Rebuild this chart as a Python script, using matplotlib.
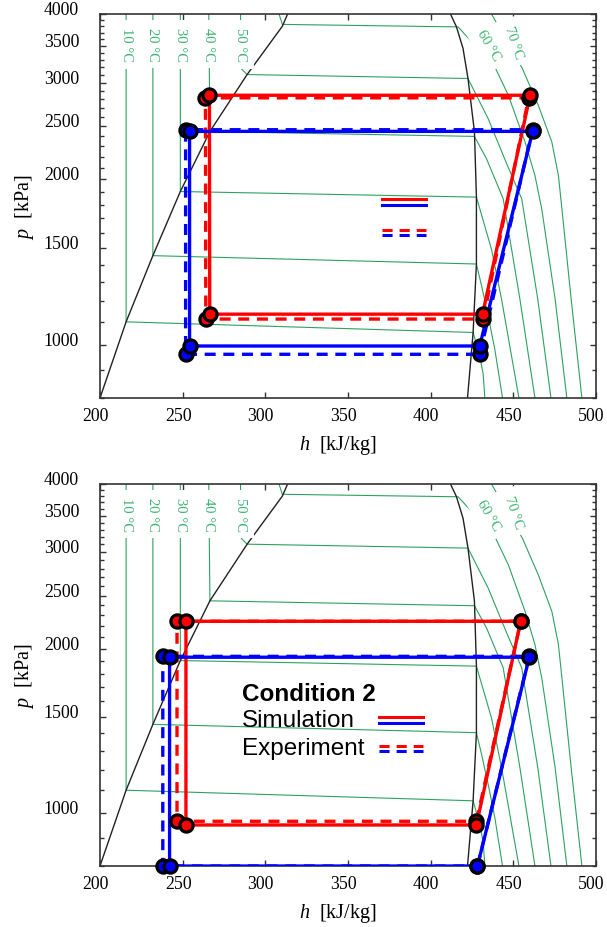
import matplotlib
matplotlib.use("Agg")
import matplotlib.pyplot as plt
import matplotlib.transforms as mtransforms
from matplotlib.lines import Line2D
from matplotlib.legend_handler import HandlerBase
from matplotlib.ticker import FixedLocator, FixedFormatter, NullFormatter

plt.rcParams['font.family'] = 'Liberation Serif'
plt.rcParams['mathtext.fontset'] = 'custom'
plt.rcParams['mathtext.it'] = 'Liberation Serif:italic'
plt.rcParams['mathtext.rm'] = 'Liberation Serif'

# ---- background: saturation dome (h in kJ/kg, p in kPa)
sat_liq_h = [200, 215.8, 232, 248.6, 266.5, 289, 310.3, 313.5]
sat_liq_p = [800, 1101, 1453, 1901, 2445, 3104, 3800, 4000]
sat_vap_h = [412.0, 415.6, 419.6, 422.6, 426.5, 427.7, 427.7, 425.7, 422.3]
sat_vap_p = [4000, 3793, 3462, 3053, 2443, 1857, 1403, 1053, 800]

# ---- isotherms (liquid part, two-phase line, superheated part)
iso_10_h = [215.8, 215.8, 425.7, 429.7, 431.8, 432.8]
iso_10_p = [4000, 1101, 1053, 954, 884, 800]
iso_20_h = [232, 232, 427.7, 430.8, 434.8, 438.8, 443.5]
iso_20_p = [4000, 1453, 1403, 1281, 1129, 982, 800]
iso_30_h = [248.6, 248.6, 427.7, 436.8, 442.9, 453.4]
iso_30_p = [4000, 1901, 1857, 1493, 1211, 800]
iso_40_h = [265.8, 266.5, 426.5, 433.8, 443.9, 454.0, 463.1]
iso_40_p = [4000, 2445, 2395, 2181, 1844, 1211, 800]
iso_50_h = [285, 285.5, 289, 422.6, 434.8, 446.0, 455.1, 464.8, 472.8]
iso_50_p = [4000, 3180, 3104, 3053, 2580, 2136, 1844, 1211, 800]
iso_60_h = [308.3, 310.3, 416.6, 438.8, 447.0, 457.1, 463.1, 467.2, 475.3, 482.4]
iso_60_p = [4000, 3830, 3790, 3206, 2846, 2340, 2033, 1768, 1211, 800]
iso_70_h = [436.8, 455.5, 465.1, 473.3, 477.3, 479.4, 485.0, 491.5]
iso_70_p = [4000, 3183, 2729, 2340, 2033, 1768, 1211, 800]

iso_h = [iso_10_h, iso_20_h, iso_30_h, iso_40_h, iso_50_h, iso_60_h, iso_70_h]
iso_p = [iso_10_p, iso_20_p, iso_30_p, iso_40_p, iso_50_p, iso_60_p, iso_70_p]

iso_labels = ['10 °C', '20 °C', '30 °C', '40 °C', '50 °C', '60 °C', '70 °C']
iso_label_h = [215.8, 232, 248.6, 265.8, 285, 435.0, 450.4]
iso_label_p = [3524, 3524, 3524, 3524, 3524, 3511, 3561]
iso_label_rot = [-90, -90, -90, -90, -90, -59.5, -71.6]

# ---- cycles: suction, discharge, condenser outlet, expansion outlet
c1_sim_red_h = [431.4, 460.2, 266.2, 266.4]
c1_sim_red_p = [1137, 2846, 2846, 1137]
c1_exp_red_h = [431.8, 459.3, 263.8, 264.0]
c1_exp_red_p = [1114, 2815, 2815, 1114]
c1_sim_blue_h = [429.7, 461.7, 254.2, 254.2]
c1_sim_blue_p = [995, 2446, 2446, 995]
c1_exp_blue_h = [429.7, 461.7, 251.8, 251.8]
c1_exp_blue_p = [961, 2463, 2463, 961]

c2_sim_red_h = [427.7, 454.5, 252.0, 252.0]
c2_sim_red_p = [951, 2243, 2243, 951]
c2_exp_red_h = [427.7, 454.5, 246.6, 246.6]
c2_exp_red_p = [966, 2243, 2243, 966]
c2_sim_blue_h = [428.3, 459.7, 242.1, 242.1]
c2_sim_blue_p = [800, 1928, 1928, 800]
c2_exp_blue_h = [428.3, 459.7, 238.0, 238.0]
c2_exp_blue_p = [800, 1935, 1935, 800]

y_major = [1000, 1500, 2000, 2500, 3000, 3500, 4000]
y_minor = [800, 900, 1100, 1200, 1300, 1400, 1600, 1700, 1800, 1900,
           2100, 2200, 2300, 2400, 2600, 2700, 2800, 2900,
           3100, 3200, 3300, 3400, 3600, 3700, 3800, 3900]
x_major = [200, 250, 300, 350, 400, 450, 500]

legend_title = 'Condition 2'
legend_labels = ['Simulation', 'Experiment']

GREEN = '#2ca25f'
DASH = (0, (3.3, 2.3))
LW = 2.4


class PairHandler(HandlerBase):
    """red line above blue line, like the original legend"""
    def __init__(self, ls):
        super().__init__()
        self.ls = ls

    def create_artists(self, legend, orig_handle, xdescent, ydescent,
                       width, height, fontsize, trans):
        y0 = height / 2 - ydescent
        out = []
        for dy, c in [(2.0, 'red'), (-2.0, 'blue')]:
            ln = Line2D([-xdescent, -xdescent + width], [y0 + dy, y0 + dy],
                        color=c, lw=2.2, ls=self.ls, transform=trans)
            out.append(ln)
        return out


def draw_background(ax):
    ax.plot(sat_liq_h, sat_liq_p, color='#222222', lw=1.0, zorder=1.5)
    ax.plot(sat_vap_h, sat_vap_p, color='#222222', lw=1.0, zorder=1.5)
    for h, p in zip(iso_h, iso_p):
        ax.plot(h, p, color=GREEN, lw=0.8, zorder=1)
    for txt, h, p, r in zip(iso_labels, iso_label_h, iso_label_p, iso_label_rot):
        ax.text(h, p, txt, rotation=r, ha='center', va='center',
                rotation_mode='anchor', fontsize=10.5, color='#3cb371', zorder=2,
                bbox=dict(boxstyle='square,pad=0.5', fc='white', ec='none'))


def draw_cycle(ax, h, p, color, ls):
    ax.plot(h + h[:1], p + p[:1], color=color, lw=LW, ls=ls, zorder=3,
            solid_capstyle='butt', dash_capstyle='butt')


def draw_markers(ax, h, p, color):
    ax.plot(h, p, ls='none', marker='o', ms=9.5, mfc=color, mec='black',
            mew=2.3, zorder=5, clip_on=False)


def style_axes(ax):
    ax.set_yscale('log')
    ax.set_xlim(200, 500)
    ax.set_ylim(800, 4000)
    ax.yaxis.set_major_locator(FixedLocator(y_major))
    ax.yaxis.set_major_formatter(FixedFormatter([str(v) for v in y_major]))
    ax.yaxis.set_minor_locator(FixedLocator(y_minor))
    ax.yaxis.set_minor_formatter(NullFormatter())
    ax.xaxis.set_major_locator(FixedLocator(x_major))
    ax.xaxis.set_minor_locator(FixedLocator([]))
    ax.tick_params(which='both', direction='in', top=True, right=True,
                   color='#333333', width=1.0)
    ax.tick_params(which='major', length=4.5, labelsize=12.8)
    ax.tick_params(which='minor', length=2.6)
    ax.tick_params(axis='y', which='major', pad=15)
    ax.tick_params(axis='x', which='major', pad=6.5)
    for s in ax.spines.values():
        s.set_color('#333333')
        s.set_linewidth(1.2)
    ax.set_xlabel('$h$  [kJ/kg]', fontsize=14.5)
    ax.set_ylabel('$p$  [kPa]', fontsize=14.5)
    ax.xaxis.set_label_coords(0.48, -0.092)
    ax.yaxis.set_label_coords(-0.129, 0.5)


fig = plt.figure(figsize=(6.07, 9.28), dpi=100)
ax1 = fig.add_axes([0.1647, 0.570, 0.8171, 0.4138])
ax2 = fig.add_axes([0.1647, 0.0657, 0.8171, 0.4117])

cases = [
    (ax1, [(c1_exp_red_h, c1_exp_red_p, 'red', DASH),
           (c1_exp_blue_h, c1_exp_blue_p, 'blue', DASH),
           (c1_sim_red_h, c1_sim_red_p, 'red', '-'),
           (c1_sim_blue_h, c1_sim_blue_p, 'blue', '-')]),
    (ax2, [(c2_exp_red_h, c2_exp_red_p, 'red', DASH),
           (c2_exp_blue_h, c2_exp_blue_p, 'blue', DASH),
           (c2_sim_red_h, c2_sim_red_p, 'red', '-'),
           (c2_sim_blue_h, c2_sim_blue_p, 'blue', '-')]),
]

for ax, series in cases:
    style_axes(ax)
    draw_background(ax)
    for h, p, c, ls in series:
        draw_cycle(ax, h, p, c, ls)
    for h, p, c, ls in series:
        draw_markers(ax, h, p, c)

# legends: line samples only (the top one has no text in the original)
h_sim = Line2D([], [], ls='-')
h_exp = Line2D([], [], ls='--')
hmap = {h_sim: PairHandler('-'), h_exp: PairHandler(DASH)}
sans = {'family': 'Liberation Sans', 'size': 17.5}

leg1 = ax1.legend([h_sim, h_exp], ['', ''], handler_map=hmap, prop=sans,
                  loc='upper right', bbox_to_anchor=(0.6823, 0.565),
                  frameon=False, markerfirst=False, borderpad=0,
                  handlelength=1.8, handletextpad=0.58, labelspacing=0.356)
leg1.set_zorder(6)

leg2 = ax2.legend([h_sim, h_exp], ['', ''], handler_map=hmap, prop=sans,
                  loc='upper right', bbox_to_anchor=(0.6754, 0.436),
                  frameon=False, markerfirst=False, borderpad=0,
                  handlelength=1.8, handletextpad=0.58, labelspacing=0.26)
leg2.set_zorder(6)

ax2.text(0.287, 0.4353, legend_title, transform=ax2.transAxes, ha='left',
         va='baseline', family='Liberation Sans', fontsize=17.5,
         fontweight='bold', zorder=6)
for lab, yy in zip(legend_labels, [0.3673, 0.2932]):
    ax2.text(0.287, yy, lab, transform=ax2.transAxes, ha='left',
             va='baseline', family='Liberation Sans', fontsize=17.5, zorder=6)

# tick labels sit a little off their ticks in the original
fig.canvas.draw()
shift_y = mtransforms.ScaledTranslation(0, 6.5 / 100, fig.dpi_scale_trans)
shift_x = mtransforms.ScaledTranslation(-4.5 / 100, 0, fig.dpi_scale_trans)
for ax in (ax1, ax2):
    for lab in ax.get_yticklabels():
        lab.set_transform(lab.get_transform() + shift_y)
    for lab in ax.get_xticklabels():
        lab.set_transform(lab.get_transform() + shift_x)

fig.savefig('out.png', dpi=100)
